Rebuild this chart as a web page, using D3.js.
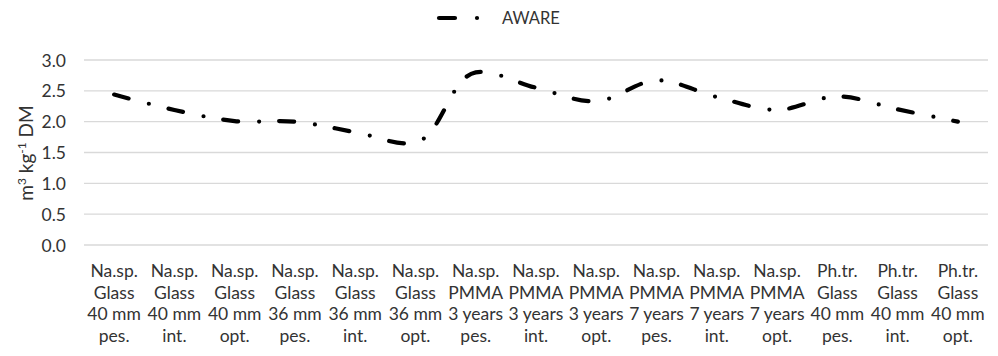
<!DOCTYPE html>
<html><head><meta charset="utf-8">
<script src="https://cdn.jsdelivr.net/npm/d3@7"></script>
<style>
body{margin:0;background:#fff;}
text{font-family:Lato,"Open Sans",sans-serif;fill:#333;}
</style></head>
<body><svg id="c" width="998" height="356"></svg>
<script>
const line1 = ["Na.sp.","Na.sp.","Na.sp.","Na.sp.","Na.sp.","Na.sp.","Na.sp.","Na.sp.","Na.sp.","Na.sp.","Na.sp.","Na.sp.","Ph.tr.","Ph.tr.","Ph.tr."];
const line2 = ["Glass","Glass","Glass","Glass","Glass","Glass","PMMA","PMMA","PMMA","PMMA","PMMA","PMMA","Glass","Glass","Glass"];
const line3 = ["40 mm","40 mm","40 mm","36 mm","36 mm","36 mm","3 years","3 years","3 years","7 years","7 years","7 years","40 mm","40 mm","40 mm"];
const line4 = ["pes.","int.","opt.","pes.","int.","opt.","pes.","int.","opt.","pes.","int.","opt.","pes.","int.","opt."];
const categories = line1.map((d,i)=>i);
const aware = [2.44, 2.19, 2.01, 2.00, 1.83, 1.66, 2.80, 2.55, 2.33, 2.67, 2.40, 2.19, 2.41, 2.20, 2.00];
const yTicks = [0, 0.5, 1.0, 1.5, 2.0, 2.5, 3.0];
const seriesName = "AWARE";

(function(){
const svg = d3.select("#c");
const mLeft = 84, mRight = 988, mTop = 60, mBottom = 245;
const x = d3.scaleBand().domain(categories).range([mLeft, mRight]);
const y = d3.scaleLinear().domain([0, 3]).range([mBottom, mTop]);
const FS = "17.5px";

svg.append("g").selectAll("line").data(yTicks).join("line")
  .attr("x1", mLeft).attr("x2", mRight)
  .attr("y1", d=>y(d)).attr("y2", d=>y(d))
  .attr("stroke", "#d9d9d9").attr("stroke-width", 1.3);

const ya = svg.append("g").attr("transform", `translate(${mLeft},0)`)
  .call(d3.axisLeft(y).tickValues(yTicks).tickFormat(d3.format(".1f")).tickSize(0).tickPadding(18));
ya.select(".domain").remove();
ya.selectAll("text").style("font-size",FS).attr("fill","#333").attr("font-family",null).attr("dy","0.35em");

const xl = svg.append("g");
categories.forEach(i=>{
  const cx = x(i)+x.bandwidth()/2;
  const t = xl.append("text").attr("x", cx).attr("y", 277)
    .attr("text-anchor","middle").style("font-size",FS);
  [line1[i], line2[i], line3[i], line4[i]].forEach((s,k)=>{
    t.append("tspan").attr("x", cx).attr("dy", k===0?0:21.6).text(s);
  });
});

svg.append("text").attr("transform","translate(33,153) rotate(-90)")
  .attr("text-anchor","middle").style("font-size","19px")
  .html('m<tspan dy="-7" font-size="12">3</tspan><tspan dy="7"> kg</tspan><tspan dy="-7" font-size="12">-1</tspan><tspan dy="7"> DM</tspan>');

const lineGen = d3.line().x((d,i)=>x(i)+x.bandwidth()/2).y(d=>y(d)).curve(d3.curveCatmullRom.alpha(1));
svg.append("path").datum(aware).attr("d", lineGen)
  .attr("fill","none").attr("stroke","#000").attr("stroke-width",4.2)
  .attr("stroke-linecap","round").attr("stroke-dasharray","15 21 0 20");

svg.append("line").attr("x1",439).attr("x2",455).attr("y1",18).attr("y2",18)
  .attr("stroke","#000").attr("stroke-width",4.2).attr("stroke-linecap","round");
svg.append("circle").attr("cx",477).attr("cy",18).attr("r",2.1).attr("fill","#000");
svg.append("text").attr("x",502).attr("y",24).style("font-size","16.5px").text(seriesName);
})();
</script></body></html>
